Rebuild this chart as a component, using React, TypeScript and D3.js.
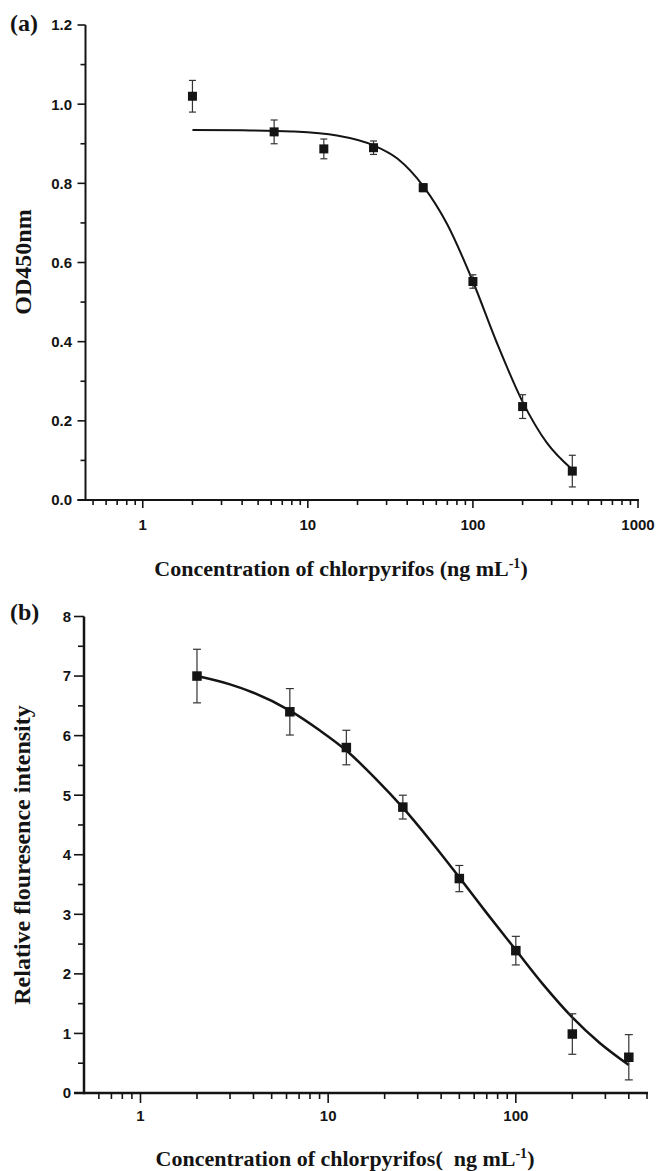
import React from "react";
import * as d3 from "d3";

// ---------- data ----------
const concentrations = [2, 6.25, 12.5, 25, 50, 100, 200, 400];

const odValues = [1.02, 0.93, 0.887, 0.89, 0.789, 0.552, 0.236, 0.073];
const odErrors = [0.04, 0.03, 0.025, 0.017, 0.01, 0.017, 0.03, 0.04];
const odFitX = [2, 4, 8, 15, 25, 35, 50, 70, 100, 140, 200, 280, 400];
const odFitY = [0.935, 0.934, 0.931, 0.921, 0.896, 0.862, 0.793, 0.696, 0.552, 0.396, 0.248, 0.145, 0.077];

const flValues = [7.0, 6.4, 5.8, 4.8, 3.6, 2.39, 0.99, 0.6];
const flErrors = [0.45, 0.39, 0.29, 0.2, 0.22, 0.24, 0.34, 0.38];
const flFitX = [2, 3, 4, 6.25, 9, 12.5, 18, 25, 35, 50, 70, 100, 140, 200, 280, 400];
const flFitY = [7.0, 6.86, 6.72, 6.42, 6.09, 5.75, 5.27, 4.79, 4.24, 3.62, 3.02, 2.4, 1.82, 1.27, 0.84, 0.47];

const topYMajor = [0, 0.2, 0.4, 0.6, 0.8, 1.0, 1.2];
const topYMinor = [0.1, 0.3, 0.5, 0.7, 0.9, 1.1];
const topXMajor = [1, 10, 100, 1000];
const topXMinor = [0.5, 0.6, 0.7, 0.8, 0.9, 2, 3, 4, 5, 6, 7, 8, 9, 20, 30, 40, 50, 60, 70, 80, 90, 200, 300, 400, 500, 600, 700, 800, 900];

const botYMajor = [0, 1, 2, 3, 4, 5, 6, 7, 8];
const botYMinor = [0.5, 1.5, 2.5, 3.5, 4.5, 5.5, 6.5, 7.5];
const botXMajor = [1, 10, 100];
const botXMinor = [0.6, 0.7, 0.8, 0.9, 2, 3, 4, 5, 6, 7, 8, 9, 20, 30, 40, 50, 60, 70, 80, 90, 200, 300, 400, 500];

const SERIF = "'Liberation Serif', 'Times New Roman', serif";
const SANS = "'Liberation Sans', Arial, sans-serif";
const INK = "#141414";

type PanelProps = {
  xDomain: [number, number];
  xRange: [number, number];
  yDomain: [number, number];
  yRange: [number, number];
  xMajor: number[];
  xMinor: number[];
  yMajor: number[];
  yMinor: number[];
  yFormat: (v: number) => string;
  values: number[];
  errors: number[];
  fitX: number[];
  fitY: number[];
  majorLen: number;
  minorLen: number;
  axisWidth: number;
  curveWidth: number;
  marker: number;
  cap: number;
  xLabelBaseline: number;
  yLabelRight: number;
};

function Panel(p: PanelProps) {
  const x = d3.scaleLog().domain(p.xDomain).range(p.xRange);
  const y = d3.scaleLinear().domain(p.yDomain).range(p.yRange);
  const x0 = p.xRange[0];
  const y0 = p.yRange[0];
  const line = d3
    .line<number>()
    .x((_, i) => x(p.fitX[i]))
    .y((d) => y(d))
    .curve(d3.curveMonotoneX);
  return (
    <g>
      {/* fit curve */}
      <path d={line(p.fitY) || ""} fill="none" stroke={INK} strokeWidth={p.curveWidth} />
      {/* error bars + markers */}
      {concentrations.map((c, i) => {
        const cx = x(c);
        const top = y(p.values[i] + p.errors[i]);
        const bot = y(p.values[i] - p.errors[i]);
        return (
          <g key={i}>
            <line x1={cx} x2={cx} y1={top} y2={bot} stroke="#333" strokeWidth={1.2} />
            <line x1={cx - p.cap / 2} x2={cx + p.cap / 2} y1={top} y2={top} stroke="#333" strokeWidth={1.2} />
            <line x1={cx - p.cap / 2} x2={cx + p.cap / 2} y1={bot} y2={bot} stroke="#333" strokeWidth={1.2} />
            <rect
              x={cx - p.marker / 2}
              y={y(p.values[i]) - p.marker / 2}
              width={p.marker}
              height={p.marker}
              fill={INK}
            />
          </g>
        );
      })}
      {/* axes */}
      <line x1={x0} x2={x0} y1={y0 + p.axisWidth / 2} y2={p.yRange[1]} stroke={INK} strokeWidth={p.axisWidth} />
      <line x1={x0 - p.majorLen} x2={p.xRange[1] + 1} y1={y0} y2={y0} stroke={INK} strokeWidth={p.axisWidth} />
      {p.yMajor.map((v) => (
        <g key={"ym" + v}>
          <line x1={x0 - p.majorLen} x2={x0} y1={y(v)} y2={y(v)} stroke={INK} strokeWidth={1.6} />
          <text
            x={p.yLabelRight}
            y={y(v)}
            dy="0.36em"
            textAnchor="end"
            fontFamily={SANS}
            fontWeight="bold"
            fontSize={15}
            fill={INK}
          >
            {p.yFormat(v)}
          </text>
        </g>
      ))}
      {p.yMinor.map((v) => (
        <line key={"yn" + v} x1={x0 - p.minorLen} x2={x0} y1={y(v)} y2={y(v)} stroke={INK} strokeWidth={1.6} />
      ))}
      {p.xMajor.map((v) => (
        <g key={"xm" + v}>
          <line x1={x(v)} x2={x(v)} y1={y0} y2={y0 + p.majorLen} stroke={INK} strokeWidth={1.6} />
          <text
            x={x(v)}
            y={p.xLabelBaseline}
            textAnchor="middle"
            fontFamily={SANS}
            fontWeight="bold"
            fontSize={15}
            fill={INK}
          >
            {String(v)}
          </text>
        </g>
      ))}
      {p.xMinor.map((v) => (
        <line key={"xn" + v} x1={x(v)} x2={x(v)} y1={y0} y2={y0 + p.minorLen} stroke={INK} strokeWidth={1.6} />
      ))}
    </g>
  );
}

function XTitle({ cx, y, text }: { cx: number; y: number; text: string }) {
  return (
    <text
      x={cx}
      y={y}
      textAnchor="middle"
      fontFamily={SERIF}
      fontWeight="bold"
      fontSize={22}
      fill={INK}
      style={{ whiteSpace: "pre" }}
    >
      {text}
      <tspan dy={-8} fontSize={14}>
        -1
      </tspan>
      <tspan dy={8}>)</tspan>
    </text>
  );
}

export default function App() {
  const f1 = d3.format(".1f");
  return (
    <svg
      width={656}
      height={1171}
      style={{ position: "absolute", left: 0, top: 0, background: "#fff" }}
    >
      <rect width={656} height={1171} fill="#fff" />
      {/* Panel (a) */}
      <text x={10} y={31} fontFamily={SERIF} fontWeight="bold" fontSize={24} fill={INK}>
        (a)
      </text>
      <Panel
        xDomain={[0.45, 1000]}
        xRange={[85.5, 638]}
        yDomain={[0, 1.2]}
        yRange={[500, 25]}
        xMajor={topXMajor}
        xMinor={topXMinor}
        yMajor={topYMajor}
        yMinor={topYMinor}
        yFormat={(v) => f1(v)}
        values={odValues}
        errors={odErrors}
        fitX={odFitX}
        fitY={odFitY}
        majorLen={8}
        minorLen={5}
        axisWidth={2}
        curveWidth={2}
        marker={9}
        cap={7}
        xLabelBaseline={530}
        yLabelRight={72}
      />
      <text
        transform="translate(31,262) rotate(-90)"
        textAnchor="middle"
        fontFamily={SERIF}
        fontWeight="bold"
        fontSize={24}
        fill={INK}
      >
        OD450nm
      </text>
      <XTitle cx={341} y={576} text="Concentration of chlorpyrifos (ng mL" />

      {/* Panel (b) */}
      <text x={10} y={620} fontFamily={SERIF} fontWeight="bold" fontSize={24} fill={INK}>
        (b)
      </text>
      <Panel
        xDomain={[0.5, 500]}
        xRange={[84, 647]}
        yDomain={[0, 8]}
        yRange={[1093, 616.5]}
        xMajor={botXMajor}
        xMinor={botXMinor}
        yMajor={botYMajor}
        yMinor={botYMinor}
        yFormat={(v) => String(v)}
        values={flValues}
        errors={flErrors}
        fitX={flFitX}
        fitY={flFitY}
        majorLen={10}
        minorLen={6}
        axisWidth={2.5}
        curveWidth={2.5}
        marker={9.5}
        cap={8}
        xLabelBaseline={1121}
        yLabelRight={71}
      />
      <text
        transform="translate(30,855) rotate(-90)"
        textAnchor="middle"
        fontFamily={SERIF}
        fontWeight="bold"
        fontSize={24}
        fill={INK}
      >
        Relative flouresence intensity
      </text>
      <XTitle cx={345} y={1166} text="Concentration of chlorpyrifos(  ng mL" />
    </svg>
  );
}
